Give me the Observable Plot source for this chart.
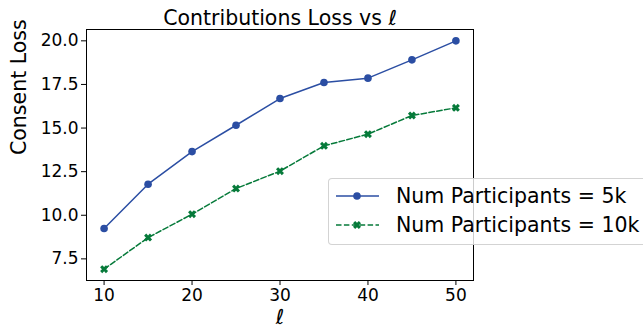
<!DOCTYPE html>
<html><head><meta charset="utf-8">
<script src="https://cdn.jsdelivr.net/npm/d3@7"></script>
<script src="https://cdn.jsdelivr.net/npm/@observablehq/plot@0.6"></script>
<style>
body{margin:0;background:#fff;overflow:hidden;font-family:"DejaVu Sans",sans-serif;}
#wrap{position:relative;width:643px;height:329px;overflow:hidden;}
#legend{position:absolute;left:328px;top:178px;width:340px;height:67px;box-sizing:border-box;border:1px solid rgba(200,200,200,0.8);border-radius:4px;background:rgba(255,255,255,0.8);}
.row{position:absolute;left:6px;height:24px;display:flex;align-items:center;white-space:nowrap;}
.row span{margin-left:17px;font-size:20.5px;color:#000;font-family:"DejaVu Sans",sans-serif;}
</style>
</head><body>
<div id="wrap"></div>
<script>
const ell = [10, 15, 20, 25, 30, 35, 40, 45, 50];
const loss5k = [9.24, 11.78, 13.65, 15.16, 16.69, 17.61, 17.86, 18.91, 20.0];
const loss10k = [6.91, 8.72, 10.06, 11.53, 12.53, 13.98, 14.65, 15.72, 16.16];
const seriesNames = ["Num Participants = 5k", "Num Participants = 10k"];
const seriesColors = ["#2b4ea3", "#067a3a"];
const xTicks = [10, 20, 30, 40, 50];
const yTicks = [7.5, 10, 12.5, 15, 17.5, 20];
const titleText = ["Contributions Loss vs \u2113"];
const xLabel = ["\u2113"];
const yLabel = ["Consent Loss"];

// filled X marker (like matplotlib 'X')
const filledX = {
  draw(ctx, size) {
    const r = Math.sqrt(size / Math.PI);
    const a = r * 1.15, t = r * 0.42;
    const pts = [[t,a],[t,t],[a,t],[a,-t],[t,-t],[t,-a],[-t,-a],[-t,-t],[-a,-t],[-a,t],[-t,t],[-t,a]];
    const c = Math.SQRT1_2;
    pts.forEach(([x,y], i) => {
      const X = (x - y) * c, Y = (x + y) * c;
      if (i === 0) ctx.moveTo(X, Y); else ctx.lineTo(X, Y);
    });
    ctx.closePath();
  }
};

const d5 = ell.map((l, i) => ({l, v: loss5k[i]}));
const d10 = ell.map((l, i) => ({l, v: loss10k[i]}));

const chart = Plot.plot({
  width: 643,
  height: 329,
  marginLeft: 86,
  marginRight: 170,
  marginTop: 29,
  marginBottom: 49,
  style: {background: "#fff", color: "#000", fontFamily: "DejaVu Sans, sans-serif"},
  x: {domain: [8, 52]},
  y: {domain: [6.26, 20.65]},
  marks: [
    Plot.line(d5, {x: "l", y: "v", stroke: seriesColors[0], strokeWidth: 1.5}),
    Plot.dot(d5, {x: "l", y: "v", fill: seriesColors[0], r: 3.8, symbol: "circle"}),
    Plot.line(d10, {x: "l", y: "v", stroke: seriesColors[1], strokeWidth: 1.5, strokeDasharray: "5.5,2.4"}),
    Plot.dot(d10, {x: "l", y: "v", fill: seriesColors[1], r: 3.6, symbol: filledX}),
    Plot.frame({stroke: "#000", strokeWidth: 1}),
    Plot.axisX({ticks: xTicks, tickSize: 5, tickPadding: 3, fontSize: 17, label: null, tickFormat: d => String(d)}),
    Plot.axisY({ticks: yTicks, tickSize: 5, tickPadding: 3, fontSize: 17, label: null, tickFormat: d => d.toFixed(1)}),
    Plot.text(titleText, {text: d => d, frameAnchor: "top", lineAnchor: "bottom", dy: -5, fontSize: 20.5, fill: "#000"}),
    Plot.text(xLabel, {text: d => d, frameAnchor: "bottom", lineAnchor: "bottom", dy: 43, fontSize: 20.5, fontStyle: "italic", fill: "#000"}),
    Plot.text(yLabel, {text: d => d, frameAnchor: "left", dx: -67, rotate: -90, fontSize: 20.5, fill: "#000"})
  ]
});
const wrap = document.getElementById("wrap");
wrap.appendChild(chart);

// legend
const legend = document.createElement("div");
legend.id = "legend";
const rowTops = [5, 34];
seriesNames.forEach((name, i) => {
  const row = document.createElement("div");
  row.className = "row";
  row.style.top = rowTops[i] + "px";
  const sw = d3.create("svg").attr("width", 44).attr("height", 24);
  sw.append("line").attr("x1", 1).attr("x2", 44).attr("y1", 12).attr("y2", 12)
    .attr("stroke", seriesColors[i]).attr("stroke-width", 1.5)
    .attr("stroke-dasharray", i === 1 ? "5.5,2.4" : null);
  const sym = i === 0 ? d3.symbolCircle : filledX;
  sw.append("path").attr("transform", "translate(22,12)")
    .attr("d", d3.symbol(sym, (i === 0 ? 3.8 : 3.6) ** 2 * Math.PI)())
    .attr("fill", seriesColors[i]);
  row.appendChild(sw.node());
  const sp = document.createElement("span");
  sp.textContent = name;
  row.appendChild(sp);
  legend.appendChild(row);
});
wrap.appendChild(legend);
</script>
</body></html>
